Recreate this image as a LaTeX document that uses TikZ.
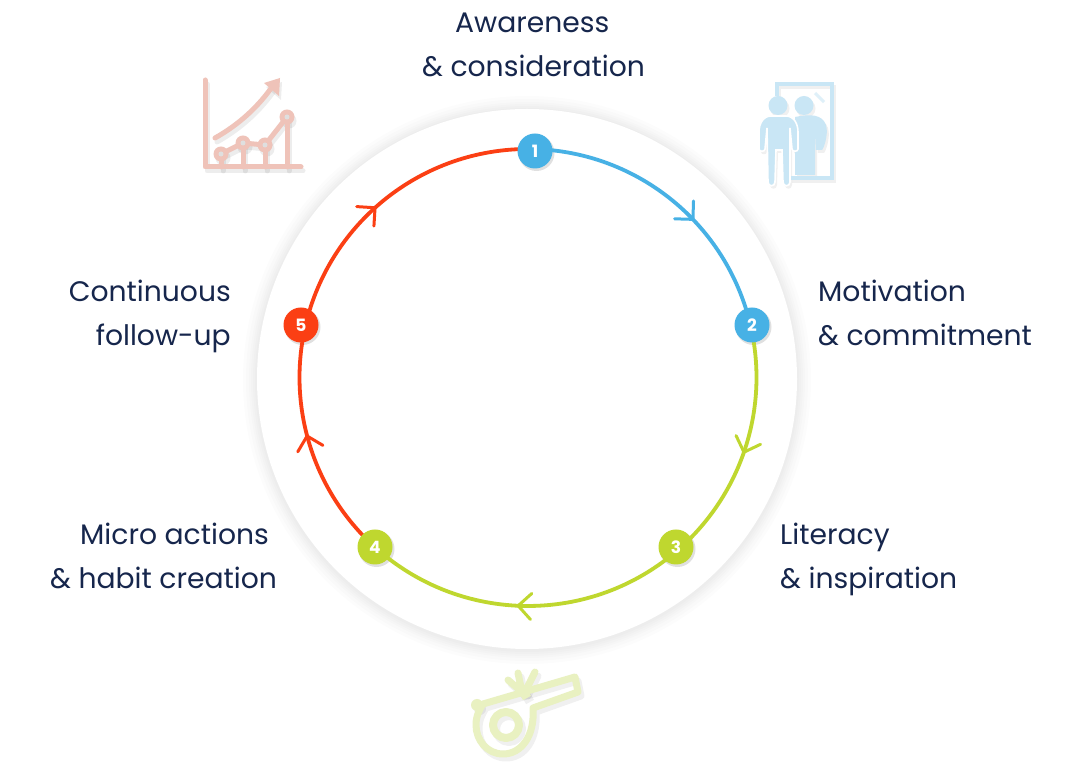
\documentclass[tikz,border=0pt]{standalone}
\usepackage{fontspec}
\setmainfont{Poppins}
\usetikzlibrary{arrows.meta,decorations.markings,calc}
\definecolor{navy}{HTML}{16264C}
\definecolor{cblue}{HTML}{47B1E5}
\definecolor{cgreen}{HTML}{BFD72F}
\definecolor{cred}{HTML}{FB3F14}
\definecolor{ichart}{HTML}{EFC3B9}
\definecolor{imirror}{HTML}{C9E6F5}
\definecolor{iwhistle}{HTML}{E9F1C1}
\newcommand{\chartpaths}[1]{%
 \begin{scope}[#1,line width=5pt,line cap=round,line join=round]
  \draw (205,80) -- (205,167) -- (301,167);
  \draw (215,138) .. controls (240,124) and (260,105) .. (274,84);
  \fill (280,78) -- (264,83) -- (279,96) -- cycle;
  \draw (221,154) -- (243,143) -- (265,145) -- (287,117);
  \draw (221,154) -- (221,167) (243,143) -- (243,167) (265,145) -- (265,167) (287,117) -- (287,167);
  \fill (221,154) circle (7.5) (243,143) circle (7.5) (265,145) circle (7.5) (287,117) circle (7.5);
 \end{scope}}
\newcommand{\whistlepaths}[1]{%
 \begin{scope}[#1,line width=7pt,line cap=round,line join=round]
  \draw (483,704) -- (575,677) -- (578,692) -- (533,708)
     .. controls (535,735) and (522,754) .. (503,754)
     .. controls (487,754) and (476,740) .. (476,725)
     .. controls (476,715) and (480,709) .. (483,704);
  \fill (477,705) circle (6);
  \draw[line width=8pt] (506,725) circle (13);
  \draw (522,692) -- (508,680) (522,692) -- (518,673) (525,692) -- (535,672);
  \draw[line width=9pt,line cap=butt] (522,689) -- (527,698);
 \end{scope}}
\newcommand{\mirrorpaths}[1]{%
 \begin{scope}[#1]
  \draw[line width=3.2pt] (777,96) -- (777,84) -- (832,84) -- (832,178) -- (790,178);
  \fill (804,105.5) circle (9.5);
  \fill (795,117) .. controls (810,114) and (822,114) .. (826,125)
     .. controls (829,135) and (823,150) .. (822,150) -- (816,150) -- (815,128) -- (815,175) -- (795,175) -- cycle;
 \end{scope}}
\newcommand{\frontbody}{(771,116) -- (786,116) .. controls (794,116) and (798,124) .. (798,132)
     -- (798,149) .. controls (798,152) and (792,152) .. (792,149) -- (790,128) -- (790,182)
     .. controls (790,187) and (783,187) .. (783,182) -- (782,150) -- (776,150) -- (775,182)
     .. controls (775,187) and (768,187) .. (768,182) -- (767,128) -- (765,149)
     .. controls (765,152) and (759,152) .. (759,149) -- (759,132)
     .. controls (759,124) and (763,116) .. (771,116) -- cycle}
\tikzset{
 x=1pt,y=1pt,
 pix/.style={yscale=-1,yshift=-766pt},
 numdot/.style={circle,minimum size=35pt,inner sep=0pt,text=white,font=\fontsize{17}{17}\selectfont\bfseries},
 lbl/.style={font=\fontsize{28.2}{44}\selectfont,text=navy,inner sep=0pt},
 ringarc/.style={line width=3.8pt},
 chev/.style 2 args={postaction={decorate},decoration={markings,mark=at position #1 with {\arrow[#2,line width=3pt]{Straight Barb[length=13pt,width=26pt,line cap=round]}}}},
}
\begin{document}
\begin{tikzpicture}
\useasboundingbox (0,0) rectangle (1077,766);
\fill[white] (0,0) rectangle (1077,766);
% disc with soft shadow
\foreach \r in {284,281,278,276,274,272}{\fill[black,opacity=0.012] (527,386) circle (\r);}
\fill[white] (527,387) circle (270);
% icons
\chartpaths{pix,shift={(2,4)},draw=black,fill=black,opacity=0.07}
\chartpaths{pix,draw=ichart,fill=ichart}
\foreach \c in {(221,154),(243,143),(265,145),(287,117)}{\fill[pix,fill=gray!25] \c circle (2.5);}
\mirrorpaths{pix,shift={(2,3)},draw=black,fill=black,opacity=0.06}
\fill[pix,shift={(2,3)},black,opacity=0.06] (778,105.5) circle (9.5) \frontbody;
\mirrorpaths{pix,draw=imirror,fill=imirror}
\draw[pix,line width=3pt,imirror!60] (815,93) -- (824,102);
\filldraw[pix,draw=white,line width=1.6pt,fill=imirror] \frontbody;
\fill[pix,imirror] (778,105.5) circle (9.5);
\whistlepaths{pix,shift={(3,4)},draw=black,fill=black,opacity=0.06}
\whistlepaths{pix,draw=iwhistle,fill=iwhistle}
% step dots
\foreach \p in {(535,615),(752,441),(676,219),(375,219),(301,441)}{\fill[black,opacity=0.12] \p ++(1.5,-2) circle (18);}
% ring anchor points
\coordinate (a1) at ($(528,388.5)+(88.2:228.5)$);
\coordinate (a2) at ($(528,388.5)+(13.3:228.5)$);
\coordinate (a3) at ($(528,388.5)+(-48.8:228.5)$);
\coordinate (a4) at ($(528,388.5)+(-132.2:228.5)$);
\coordinate (a5) at ($(528,388.5)+(166.9:228.5)$);
% arcs
\draw[ringarc,cblue,chev={0.6}{cblue}] (a1) arc[start angle=88.2,end angle=13.3,radius=228.5];
\draw[ringarc,cgreen,chev={0.53}{cgreen}] (a2) arc[start angle=13.3,end angle=-48.8,radius=228.5];
\draw[ringarc,cgreen,chev={0.53}{cgreen}] (a3) arc[start angle=-48.8,end angle=-132.2,radius=228.5];
\draw[ringarc,cred,chev={0.55}{cred}] (a4) arc[start angle=227.8,end angle=166.9,radius=228.5];
\draw[ringarc,cred,chev={0.45}{cred}] (a5) arc[start angle=166.9,end angle=88.2,radius=228.5];
\node[numdot,fill=cblue] (n1) at (535,615) {1};
\node[numdot,fill=cblue] (n2) at (752,441) {2};
\node[numdot,fill=cgreen] (n3) at (676,219) {3};
\node[numdot,fill=cgreen] (n4) at (375,219) {4};
\node[numdot,fill=cred] (n5) at (301,441) {5};
% labels
\node[lbl,align=left,anchor=north west] (t1) at (422,753) {\hspace*{33pt}Awareness\\\& consideration};
\node[lbl,align=left,anchor=north west] (t2) at (818,486) {Motivation\\\& commitment};
\node[lbl,align=left,anchor=north west] (t3) at (780,243) {Literacy\\\& inspiration};
\node[lbl,align=left,anchor=north west] (t4) at (50,243) {\hspace*{30pt}Micro actions\\\& habit creation};
\node[lbl,align=right,anchor=north east] (t5) at (231,486) {Continuous\\follow-up};
\end{tikzpicture}
\end{document}
